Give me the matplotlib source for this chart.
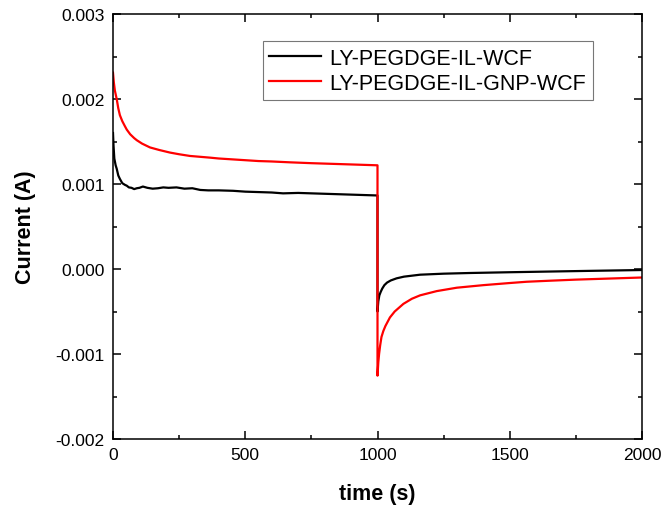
import matplotlib
matplotlib.use("Agg")
import matplotlib.pyplot as plt
import matplotlib.ticker as tick

plt.rcParams['font.family'] = ['Liberation Sans', 'DejaVu Sans']
plt.rcParams['axes.unicode_minus'] = False

# values (current in A)
t_black = [0, 2, 5, 10, 14, 20, 26, 35, 45, 52, 60, 70, 80, 90, 100, 113, 130, 150,
           170, 190, 210, 240, 270, 300, 330, 360, 400, 454, 500, 550, 600, 643,
           700, 750, 800, 850, 900, 950, 1000,
           1000, 1003, 1007, 1012, 1018, 1026, 1036, 1050, 1072, 1100, 1161, 1250,
           1350, 1500, 1650, 1800, 2000]
i_black = [1.60e-3, 1.45e-3, 1.30e-3, 1.22e-3, 1.18e-3, 1.10e-3, 1.06e-3, 1.01e-3,
           0.99e-3, 0.98e-3, 0.96e-3, 0.955e-3, 0.94e-3, 0.95e-3, 0.955e-3, 0.97e-3,
           0.955e-3, 0.945e-3, 0.95e-3, 0.96e-3, 0.955e-3, 0.96e-3, 0.945e-3,
           0.95e-3, 0.93e-3, 0.925e-3, 0.925e-3, 0.92e-3, 0.91e-3, 0.905e-3,
           0.90e-3, 0.89e-3, 0.895e-3, 0.89e-3, 0.885e-3, 0.88e-3, 0.875e-3,
           0.87e-3, 0.865e-3,
           -0.50e-3, -0.38e-3, -0.31e-3, -0.27e-3, -0.23e-3, -0.19e-3, -0.16e-3,
           -0.135e-3, -0.11e-3, -0.09e-3, -0.067e-3, -0.055e-3, -0.047e-3,
           -0.038e-3, -0.03e-3, -0.022e-3, -0.012e-3]

t_red = [0, 3, 7, 14, 20, 26, 35, 45, 52, 65, 80, 90, 110, 140, 175, 215, 250, 291,
         329, 367, 400, 450, 500, 550, 600, 669, 750, 800, 850, 900, 950, 1000,
         1000, 1003, 1006, 1010, 1015, 1022, 1030, 1047, 1065, 1098, 1130, 1161,
         1224, 1300, 1400, 1500, 1564, 1650, 1750, 1850, 2000]
i_red = [2.31e-3, 2.20e-3, 2.10e-3, 2.00e-3, 1.89e-3, 1.81e-3, 1.74e-3, 1.68e-3,
         1.64e-3, 1.585e-3, 1.54e-3, 1.515e-3, 1.475e-3, 1.43e-3, 1.40e-3, 1.37e-3,
         1.35e-3, 1.33e-3, 1.32e-3, 1.31e-3, 1.30e-3, 1.29e-3, 1.28e-3, 1.27e-3,
         1.265e-3, 1.255e-3, 1.245e-3, 1.24e-3, 1.235e-3, 1.23e-3, 1.225e-3, 1.22e-3,
         -1.255e-3, -1.10e-3, -1.00e-3, -0.90e-3, -0.80e-3, -0.73e-3, -0.67e-3,
         -0.57e-3, -0.50e-3, -0.41e-3, -0.35e-3, -0.31e-3, -0.26e-3, -0.22e-3,
         -0.19e-3, -0.165e-3, -0.15e-3, -0.138e-3, -0.125e-3, -0.115e-3, -0.10e-3]

labels = ["LY-PEGDGE-IL-WCF", "LY-PEGDGE-IL-GNP-WCF"]

fig = plt.figure(figsize=(6.65, 5.1), dpi=100)
ax = fig.add_axes([113 / 665, 70 / 510, 529 / 665, 425 / 510])

ax.plot(t_black, i_black, color='black', lw=1.6, label=labels[0])
ax.plot(t_red, i_red, color='red', lw=1.6, label=labels[1])

ax.set_xlim(0, 2000)
ax.set_ylim(-0.002, 0.003)
ax.xaxis.set_major_locator(tick.MultipleLocator(500))
ax.xaxis.set_minor_locator(tick.MultipleLocator(250))
ax.yaxis.set_major_locator(tick.MultipleLocator(0.001))
ax.yaxis.set_minor_locator(tick.MultipleLocator(0.0005))
ax.yaxis.set_major_formatter(tick.FormatStrFormatter('%.3f'))

ax.tick_params(which='both', direction='in', top=True, right=True, width=1.1)
ax.tick_params(which='major', length=6, labelsize=12.5, pad=6)
ax.tick_params(which='minor', length=3)
for s in ax.spines.values():
    s.set_linewidth(1.1)

ax.set_xlabel("time (s)", fontsize=15.5, fontweight='bold', labelpad=15)
ax.set_ylabel("Current (A)", fontsize=15.5, fontweight='bold', labelpad=14)

leg = ax.legend(loc='upper right', bbox_to_anchor=(0.907, 0.936), borderaxespad=0,
                fontsize=15.5, fancybox=False, edgecolor='#555555',
                handlelength=2.4, labelspacing=0.2, borderpad=0.3, handletextpad=0.4)
leg.get_frame().set_linewidth(0.8)

fig.savefig("out.png", dpi=100)
